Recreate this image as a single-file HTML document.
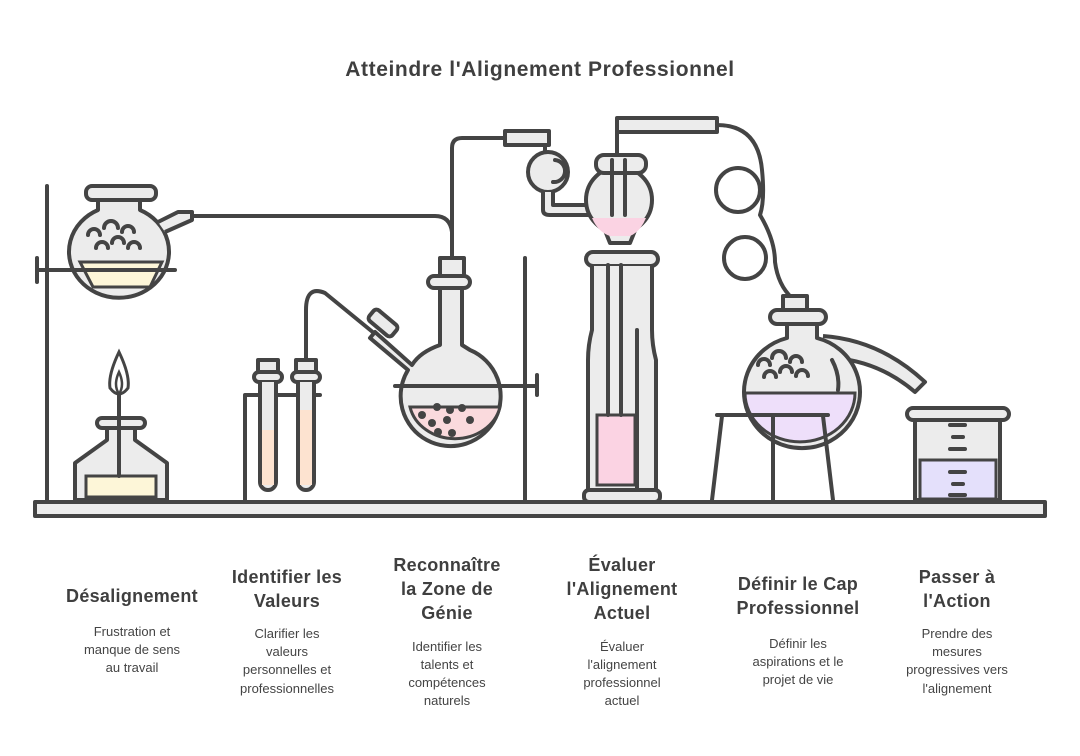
<!DOCTYPE html>
<html><head><meta charset="utf-8"><style>
html,body{margin:0;padding:0;background:#fff;}
svg{display:block}
.h{font-family:"Liberation Sans",sans-serif;font-weight:bold;font-size:18px;fill:#3f3f3f;text-anchor:middle;letter-spacing:0.3px}
.d{font-family:"Liberation Sans",sans-serif;font-size:13px;fill:#444;text-anchor:middle}
.s{fill:none;stroke:#444;stroke-width:4;stroke-linecap:round;stroke-linejoin:round}
.g{fill:#ececec;stroke:#444;stroke-width:4;stroke-linejoin:round}
</style></head><body>
<svg width="1080" height="756" viewBox="0 0 1080 756" xmlns="http://www.w3.org/2000/svg">
<text x="540" y="76" class="h" style="font-size:21px;letter-spacing:0.6px">Atteindre l'Alignement Professionnel</text>

<!-- shelf -->
<rect x="35" y="502" width="1010" height="14" class="g"/>

<!-- left stand -->
<line x1="47" y1="186" x2="47" y2="502" class="s"/>
<line x1="37" y1="258" x2="37" y2="282" class="s"/>
<!-- flask1 -->
<path d="M98,200 L98,210 A50,46 0 1 0 140,210 L140,200" class="g"/>
<rect x="86" y="186" width="70" height="14" rx="6" class="g"/>
<path d="M80,262 L162,262 L150,287 L93,287 Z" fill="#fdf6d8" stroke="#444" stroke-width="3"/>
<path d="M158,222 L178,212 L192,212 L192,220 L165,232" class="g"/>
<g class="s" stroke-width="3">
<path d="M88,235 a6,6 0 0 1 12,0"/><path d="M104,228 a7,7 0 0 1 14,0"/><path d="M122,232 a6,6 0 0 1 12,0"/>
<path d="M96,248 a6,6 0 0 1 12,0"/><path d="M112,243 a6,6 0 0 1 12,0"/><path d="M128,248 a6,6 0 0 1 12,0"/>
</g>
<line x1="37" y1="270" x2="175" y2="270" class="s"/>
<path d="M192,216 L435,216 Q450,216 452,232 L452,258" class="s"/>

<!-- burner -->
<path d="M119,352 Q108,375 110,388 Q119,400 128,388 Q130,375 119,352Z" fill="#fff" stroke="#444" stroke-width="3"/>
<path d="M119,372 Q113,385 119,394 Q125,385 119,372Z" fill="none" stroke="#444" stroke-width="2.5"/>
<path d="M107,425 L107,440 L75,463 L75,500 L167,500 L167,463 L135,440 L135,425" class="g"/>
<rect x="97" y="418" width="48" height="10" rx="5" class="g"/>
<rect x="86" y="476" width="70" height="21" fill="#fdf6d8" stroke="#444" stroke-width="3"/>
<line x1="119" y1="395" x2="119" y2="476" class="s" stroke-width="3"/>

<!-- test tubes -->
<path d="M245,500 L245,395 L320,395" class="s"/>
<rect x="258" y="360" width="20" height="12" class="g"/>
<rect x="254" y="372" width="28" height="10" rx="5" class="g"/>
<path d="M260,382 L260,482 A8,8 0 0 0 276,482 L276,382" class="g"/>
<rect x="262" y="430" width="12" height="55" fill="#fde3d0"/>
<rect x="296" y="360" width="20" height="12" class="g"/>
<rect x="292" y="372" width="28" height="10" rx="5" class="g"/>
<path d="M298,382 L298,482 A8,8 0 0 0 314,482 L314,382" class="g"/>
<rect x="300" y="410" width="12" height="75" fill="#fde3d0"/>
<path d="M306,360 L306,310 Q306,285 325,293 L380,338" class="s"/>

<!-- middle flask -->
<line x1="525" y1="258" x2="525" y2="500" class="s"/>
<line x1="537" y1="375" x2="537" y2="395" class="s"/>
<path d="M440,285 L440,345 Q420,352 412,365 L375,332 L370,338 L408,370 A50,50 0 1 0 470,350 L462,345 L462,285" class="g"/>
<rect x="368" y="316" width="30" height="14" rx="4" transform="rotate(40 383 323)" class="g"/>
<rect x="428" y="276" width="42" height="12" rx="6" class="g"/>
<rect x="440" y="258" width="24" height="18" class="g"/>
<path d="M410,407 L500,407 A46,40 0 0 1 410,407Z" fill="#fadadd" stroke="#444" stroke-width="3"/>
<g fill="#444"><circle cx="422" cy="415" r="4"/><circle cx="437" cy="407" r="4"/><circle cx="450" cy="410" r="4"/><circle cx="462" cy="408" r="4"/><circle cx="432" cy="423" r="4"/><circle cx="447" cy="420" r="4"/><circle cx="470" cy="420" r="4"/><circle cx="438" cy="432" r="4"/><circle cx="452" cy="433" r="4"/></g>
<line x1="395" y1="386" x2="537" y2="386" class="s"/>
<path d="M452,258 L452,148 Q452,138 462,138 L505,138" class="s"/>

<!-- bulb connector -->
<rect x="505" y="131" width="44" height="14" class="g"/>
<path d="M545,145 L545,152" class="s"/>
<circle cx="548" cy="172" r="20" class="g"/>
<path d="M543,192 L543,210 Q543,215 550,215 L590,215 L590,205 L553,205 L553,192" class="g"/>
<path d="M555,160 A10,10 0 0 1 553,182" class="s" stroke-width="3"/>

<!-- column flask -->
<circle cx="619" cy="200" r="33" class="g"/>
<path d="M604,228 L610,243 L630,243 L636,228Z" class="g"/>
<rect x="596" y="155" width="50" height="18" rx="8" class="g"/>
<path d="M592,218 L646,218 Q640,232 630,236 L610,236 Q598,232 592,218Z" fill="#fbd3e3"/>
<path d="M617,155 L617,128 Q617,120 625,120 L715,120" class="s"/>
<rect x="617" y="118" width="100" height="14" class="g"/>
<line x1="612" y1="160" x2="612" y2="215" class="s" stroke-width="3"/>
<line x1="625" y1="160" x2="625" y2="215" class="s" stroke-width="3"/>
<!-- column -->
<rect x="586" y="252" width="72" height="14" rx="7" class="g"/>
<path d="M592,266 L592,330 Q588,345 588,360 L588,490 L656,490 L656,360 Q652,345 652,330 L652,266" class="g"/>
<rect x="584" y="490" width="76" height="12" rx="5" class="g"/>
<rect x="597" y="415" width="38" height="70" fill="#fbd3e3" stroke="#444" stroke-width="3"/>
<line x1="608" y1="265" x2="608" y2="415" class="s" stroke-width="3"/>
<line x1="621" y1="265" x2="621" y2="415" class="s" stroke-width="3"/>
<line x1="637" y1="330" x2="637" y2="490" class="s" stroke-width="3"/>

<!-- coiled tube -->
<path d="M717,125 Q758,125 762,170 Q765,200 760,215 Q775,240 775,262 Q778,285 792,298" class="s" stroke-width="3.5"/>
<circle cx="738" cy="190" r="22" class="s" stroke-width="3.5"/>
<circle cx="745" cy="258" r="21" class="s" stroke-width="3.5"/>

<!-- right flask -->
<path d="M823,336 Q880,340 925,382 L915,392 Q880,362 835,358" class="g"/>
<path d="M787,322 L787,338 A58,56 0 1 0 817,338 L817,322" class="g"/>
<rect x="770" y="310" width="56" height="14" rx="7" class="g"/>
<rect x="783" y="296" width="24" height="14" class="g"/>
<path d="M745,393 L855,393 A54,48 0 0 1 745,393Z" fill="#eedffa" stroke="#444" stroke-width="3"/>
<path d="M832,360 Q840,375 838,390" class="s" stroke-width="3"/>
<g class="s" stroke-width="3">
<path d="M758,365 a6,6 0 0 1 12,0"/><path d="M772,358 a7,7 0 0 1 14,0"/><path d="M790,362 a6,6 0 0 1 12,0"/>
<path d="M764,377 a6,6 0 0 1 12,0"/><path d="M780,372 a6,6 0 0 1 12,0"/><path d="M796,376 a6,6 0 0 1 12,0"/>
</g>
<line x1="717" y1="415" x2="828" y2="415" class="s"/>
<line x1="722" y1="416" x2="712" y2="500" class="s"/>
<line x1="823" y1="416" x2="833" y2="500" class="s"/>
<line x1="773" y1="416" x2="773" y2="500" class="s"/>

<!-- beaker -->
<path d="M915,420 L915,500 L1000,500 L1000,420" class="g"/>
<rect x="907" y="408" width="102" height="12" rx="6" class="g"/>
<rect x="920" y="460" width="76" height="39" fill="#e4e0fb" stroke="#444" stroke-width="3"/>
<g class="s" stroke-width="3"><line x1="950" y1="425" x2="965" y2="425"/><line x1="953" y1="437" x2="963" y2="437"/><line x1="950" y1="449" x2="965" y2="449"/><line x1="950" y1="472" x2="965" y2="472"/><line x1="953" y1="484" x2="963" y2="484"/><line x1="950" y1="495" x2="965" y2="495"/></g>

<!-- labels -->
<text class="h" x="132" y="602">Désalignement</text>
<text class="d" x="132" y="636">Frustration et</text><text class="d" x="132" y="654">manque de sens</text><text class="d" x="132" y="672">au travail</text>

<text class="h" x="287" y="583">Identifier les</text><text class="h" x="287" y="607">Valeurs</text>
<text class="d" x="287" y="638">Clarifier les</text><text class="d" x="287" y="656">valeurs</text><text class="d" x="287" y="674">personnelles et</text><text class="d" x="287" y="693">professionnelles</text>

<text class="h" x="447" y="571">Reconnaître</text><text class="h" x="447" y="595">la Zone de</text><text class="h" x="447" y="619">Génie</text>
<text class="d" x="447" y="651">Identifier les</text><text class="d" x="447" y="669">talents et</text><text class="d" x="447" y="687">compétences</text><text class="d" x="447" y="705">naturels</text>

<text class="h" x="622" y="571">Évaluer</text><text class="h" x="622" y="595">l'Alignement</text><text class="h" x="622" y="619">Actuel</text>
<text class="d" x="622" y="651">Évaluer</text><text class="d" x="622" y="669">l'alignement</text><text class="d" x="622" y="687">professionnel</text><text class="d" x="622" y="705">actuel</text>

<text class="h" x="798" y="590">Définir le Cap</text><text class="h" x="798" y="614">Professionnel</text>
<text class="d" x="798" y="648">Définir les</text><text class="d" x="798" y="666">aspirations et le</text><text class="d" x="798" y="684">projet de vie</text>

<text class="h" x="957" y="583">Passer à</text><text class="h" x="957" y="607">l'Action</text>
<text class="d" x="957" y="638">Prendre des</text><text class="d" x="957" y="656">mesures</text><text class="d" x="957" y="674">progressives vers</text><text class="d" x="957" y="693">l'alignement</text>
</svg>
</body></html>
